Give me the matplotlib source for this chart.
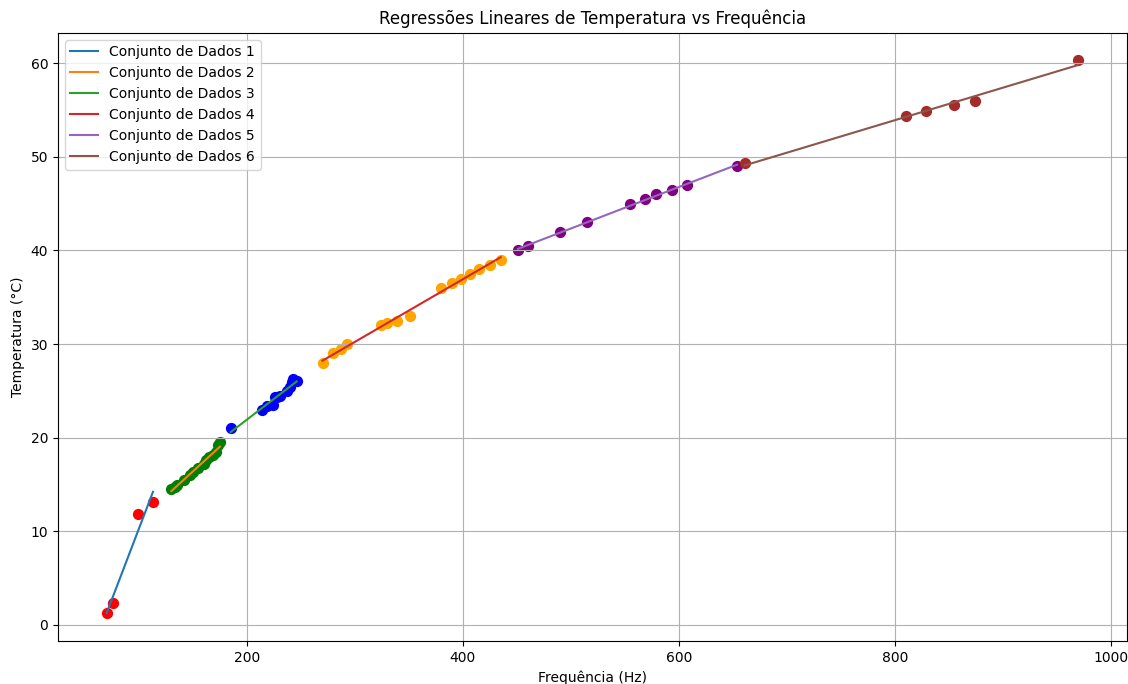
import numpy as np
import matplotlib.pyplot as plt

# Frequência (Hz) e temperatura (°C) de cada conjunto
freq_1 = [70, 76, 99, 113]
temp_1 = [1.3, 2.3, 11.8, 13.1]

freq_2 = [130, 133, 135, 142, 147, 150, 155, 160, 162, 165, 169, 171, 173, 175]
temp_2 = [14.5, 14.7, 14.9, 15.5, 16.0, 16.3, 16.8, 17.2, 17.6, 17.9, 18.1, 18.5, 19.2, 19.5]

freq_3 = [185, 214, 219, 224, 226, 228, 231, 237, 240, 242, 243, 246]
temp_3 = [21.0, 23.0, 23.4, 23.5, 24.3, 24.4, 24.5, 25.0, 25.4, 25.9, 26.3, 26.1]

freq_4 = [270, 280, 287, 293, 324, 330, 339, 351, 380, 390, 398, 407, 415, 425, 435]
temp_4 = [28.0, 29.0, 29.5, 30.0, 32.0, 32.2, 32.5, 33.0, 36.0, 36.5, 37.0, 37.5, 38.0, 38.5, 39.0]

freq_5 = [451, 460, 490, 515, 555, 569, 579, 594, 608, 654]
temp_5 = [40.0, 40.5, 42.0, 43.0, 45.0, 45.5, 46.0, 46.5, 47.0, 49.0]

freq_6 = [661, 810, 829, 855, 874, 970]
temp_6 = [49.3, 54.4, 54.9, 55.5, 56.0, 60.3]

conjuntos = [(freq_1, temp_1), (freq_2, temp_2), (freq_3, temp_3),
             (freq_4, temp_4), (freq_5, temp_5), (freq_6, temp_6)]
cores_pontos = ['red', 'green', 'blue', 'orange', 'purple', 'brown']

fig, ax = plt.subplots(figsize=(11.28, 6.84), dpi=100)
fig.subplots_adjust(left=0.0514, right=0.999, top=0.952, bottom=0.063)

for i, ((x, y), cor) in enumerate(zip(conjuntos, cores_pontos), start=1):
    x = np.array(x)
    y = np.array(y)
    a, b = np.polyfit(x, y, 1)
    ax.scatter(x, y, color=cor, s=50)
    xs = np.array([x.min(), x.max()])
    ax.plot(xs, a * xs + b, label=f'Conjunto de Dados {i}')

ax.set_title('Regressões Lineares de Temperatura vs Frequência')
ax.set_xlabel('Frequência (Hz)')
ax.set_ylabel('Temperatura (°C)')
ax.legend(loc='upper left')
ax.grid(True)

plt.savefig('out.png', dpi=100)
